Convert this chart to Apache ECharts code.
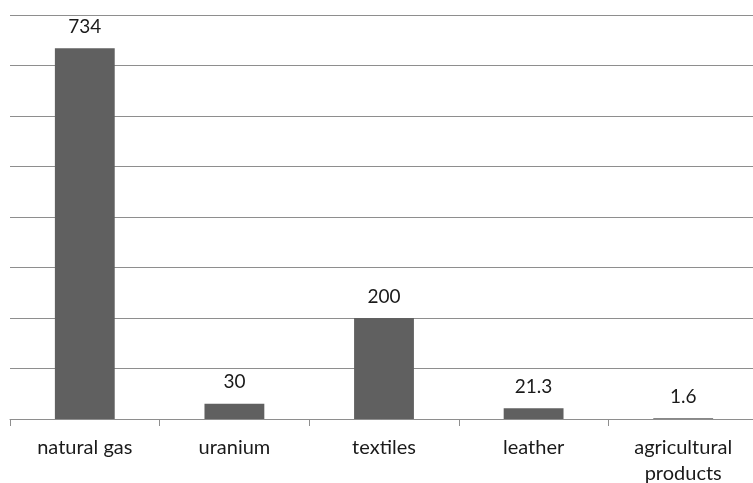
<!DOCTYPE html>
<html><head><meta charset="utf-8">
<script src="https://cdn.jsdelivr.net/npm/echarts@6/dist/echarts.min.js"></script>
<style>html,body{margin:0;padding:0;background:#fff}#c{width:753px;height:483px}</style>
</head><body><div id="c"></div>
<script>
const categories = ['natural gas', 'uranium', 'textiles', 'leather', 'agricultural\nproducts'];
const values = [734, 30, 200, 21.3, 1.6];
const labels = ['734', '30', '200', '21.3', '1.6'];

const chart = echarts.init(document.getElementById('c'), null, {renderer: 'canvas'});
chart.setOption({
  animation: false,
  backgroundColor: '#fff',
  grid: {left: 10, top: 15, width: 748, height: 404, containLabel: false, outerBoundsMode: 'none'},
  xAxis: {
    type: 'category', data: categories,
    axisLine: {lineStyle: {color: '#8e8e8e', width: 1}},
    axisTick: {show: true, length: 7, alignWithLabel: false, lineStyle: {color: '#8e8e8e'}},
    axisLabel: {color: '#1a1a1a', fontSize: 20, fontFamily: 'Lato', margin: 16, lineHeight: 26, interval: 0}
  },
  yAxis: {
    type: 'value', min: 0, max: 800, interval: 100,
    axisLine: {show: false}, axisTick: {show: false}, axisLabel: {show: false},
    splitLine: {lineStyle: {color: '#8e8e8e', width: 1}}
  },
  series: [{
    type: 'bar', data: values, barWidth: '40%',
    itemStyle: {color: '#606060'},
    label: {show: true, position: 'top', distance: 12, color: '#1a1a1a', fontSize: 19, fontFamily: 'Lato',
      formatter: p => labels[p.dataIndex]}
  }]
});
</script></body></html>
